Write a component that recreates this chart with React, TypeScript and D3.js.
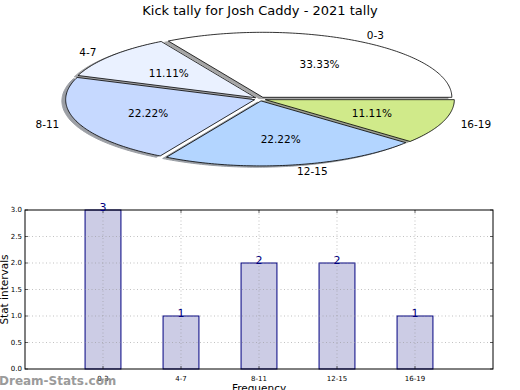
import React from 'react';
import * as d3 from 'd3';

const categories = ['0-3', '4-7', '8-11', '12-15', '16-19'];
const tally = [3, 1, 2, 2, 1];
const sliceColors = ['#ffffff', '#eaf1ff', '#c6d9ff', '#b3d5ff', '#d0ea8a'];
const yTicks = [0, 0.5, 1, 1.5, 2, 2.5, 3];

const FONT = '"DejaVu Sans", Verdana, sans-serif';

// pie geometry (matplotlib-style pie squashed into an ellipse)
const cx = 260, cy = 99, rx = 189, ry = 65;
const explode = 0.03;

// bar axes
const ax = {left: 25, right: 493, top: 210, bottom: 369};

const toXY = (a: number, r: number, ox: number, oy: number): [number, number] => [
  cx + ox + r * rx * Math.cos(a),
  cy + oy - r * ry * Math.sin(a),
];

const App = () => {
  const total = d3.sum(tally);
  const pie = d3.pie<number>().sort(null).startAngle(0).endAngle(2 * Math.PI);
  const arcs = pie(tally);
  const line = d3.line<[number, number]>();

  const wedgePath = (start: number, end: number, ox: number, oy: number) => {
    const n = Math.max(8, Math.ceil(((end - start) * 180) / Math.PI));
    const pts: [number, number][] = [toXY(0, 0, ox, oy)];
    d3.range(n + 1).forEach(i => pts.push(toXY(start + ((end - start) * i) / n, 1, ox, oy)));
    return line(pts) + 'Z';
  };

  const wedges = arcs.map((a, i) => {
    const mid = (a.startAngle + a.endAngle) / 2;
    const ox = explode * rx * Math.cos(mid);
    const oy = -explode * ry * Math.sin(mid);
    return {i, a, mid, ox, oy};
  });

  const shadowColor = (c: string) => {
    const rgb = d3.rgb(c);
    return d3.rgb(rgb.r * 0.3, rgb.g * 0.3, rgb.b * 0.3).formatHex();
  };

  const x = d3.scaleLinear().domain([0, 6]).range([ax.left, ax.right]);
  const y = d3.scaleLinear().domain([0, 3]).range([ax.bottom, ax.top]);
  const barW = x(0.46) - x(0);

  return (
    <svg width={520} height={390} style={{position: 'absolute', left: 0, top: 0}} fontFamily={FONT}>
      <rect width={520} height={390} fill="#fff" />
      <text x={260} y={15} textAnchor="middle" fontSize={13} fill="#000">
        Kick tally for Josh Caddy - 2021 tally
      </text>

      {/* shadows */}
      {wedges.map(w => (
        <path
          key={'s' + w.i}
          d={wedgePath(w.a.startAngle, w.a.endAngle, w.ox - 0.02 * rx, w.oy + 0.02 * ry)}
          fill={shadowColor(sliceColors[w.i])}
          stroke={shadowColor(sliceColors[w.i])}
          strokeWidth={1}
          opacity={0.5}
        />
      ))}
      {wedges.map(w => (
        <path
          key={'w' + w.i}
          d={wedgePath(w.a.startAngle, w.a.endAngle, w.ox, w.oy)}
          fill={sliceColors[w.i]}
          stroke="#000"
          strokeWidth={0.8}
          strokeLinejoin="round"
        />
      ))}
      {wedges.map(w => {
        const [px, py] = toXY(w.mid, 0.6, w.ox, w.oy);
        const [lx, ly] = toXY(w.mid, 1.1, w.ox, w.oy);
        return (
          <g key={'t' + w.i} fontSize={10.5} fill="#000">
            <text x={px} y={py} textAnchor="middle" dominantBaseline="central">
              {((tally[w.i] / total) * 100).toFixed(2)}%
            </text>
            <text
              x={lx}
              y={ly}
              textAnchor={Math.cos(w.mid) >= 0 ? 'start' : 'end'}
              dominantBaseline="central"
            >
              {categories[w.i]}
            </text>
          </g>
        );
      })}

      {/* bar chart */}
      {tally.map((v, i) => (
        <rect
          key={'b' + i}
          x={x(i + 1) - barW / 2}
          y={y(v)}
          width={barW}
          height={y(0) - y(v)}
          fill="#ccccE5"
          stroke="#000080"
          strokeWidth={1}
        />
      ))}
      {/* grid on top */}
      <g stroke="#999" strokeWidth={0.6} strokeDasharray="1,2.5">
        {yTicks.slice(1, -1).map(t => (
          <line key={'gy' + t} x1={ax.left} x2={ax.right} y1={y(t)} y2={y(t)} />
        ))}
        {categories.map((c, i) => (
          <line key={'gx' + c} x1={x(i + 1)} x2={x(i + 1)} y1={ax.top} y2={ax.bottom} />
        ))}
      </g>
      <rect
        x={ax.left}
        y={ax.top}
        width={ax.right - ax.left}
        height={ax.bottom - ax.top}
        fill="none"
        stroke="#000"
        strokeWidth={1}
      />
      {yTicks.map(t => (
        <g key={'yt' + t}>
          <line x1={ax.left} x2={ax.left + 3} y1={y(t)} y2={y(t)} stroke="#000" strokeWidth={0.6} />
          <line x1={ax.right - 3} x2={ax.right} y1={y(t)} y2={y(t)} stroke="#000" strokeWidth={0.6} />
          <text x={ax.left - 3} y={y(t)} textAnchor="end" dominantBaseline="central" fontSize={7}>
            {t.toFixed(1)}
          </text>
        </g>
      ))}
      {categories.map((c, i) => (
        <g key={'xt' + c}>
          <line x1={x(i + 1)} x2={x(i + 1)} y1={ax.bottom} y2={ax.bottom - 3} stroke="#000" strokeWidth={0.6} />
          <line x1={x(i + 1)} x2={x(i + 1)} y1={ax.top} y2={ax.top + 3} stroke="#000" strokeWidth={0.6} />
          <text x={x(i + 1)} y={ax.bottom + 12} textAnchor="middle" fontSize={7}>
            {c}
          </text>
        </g>
      ))}
      {tally.map((v, i) => (
        <text key={'v' + i} x={x(i + 1)} y={y(v) + 1} textAnchor="middle" fontSize={11} fill="#000080">
          {v}
        </text>
      ))}
      <text transform={`translate(8, ${(ax.top + ax.bottom) / 2}) rotate(-90)`} textAnchor="middle" fontSize={10.5}>
        Stat intervals
      </text>
      <text x={(ax.left + ax.right) / 2} y={392} textAnchor="middle" fontSize={10.5}>
        Frequency
      </text>
      <text x={-1} y={385} fontSize={12} fontWeight="bold" fill="#8a8a8a" opacity={0.85}>
        Dream-Stats.com
      </text>
    </svg>
  );
};

export default App;
